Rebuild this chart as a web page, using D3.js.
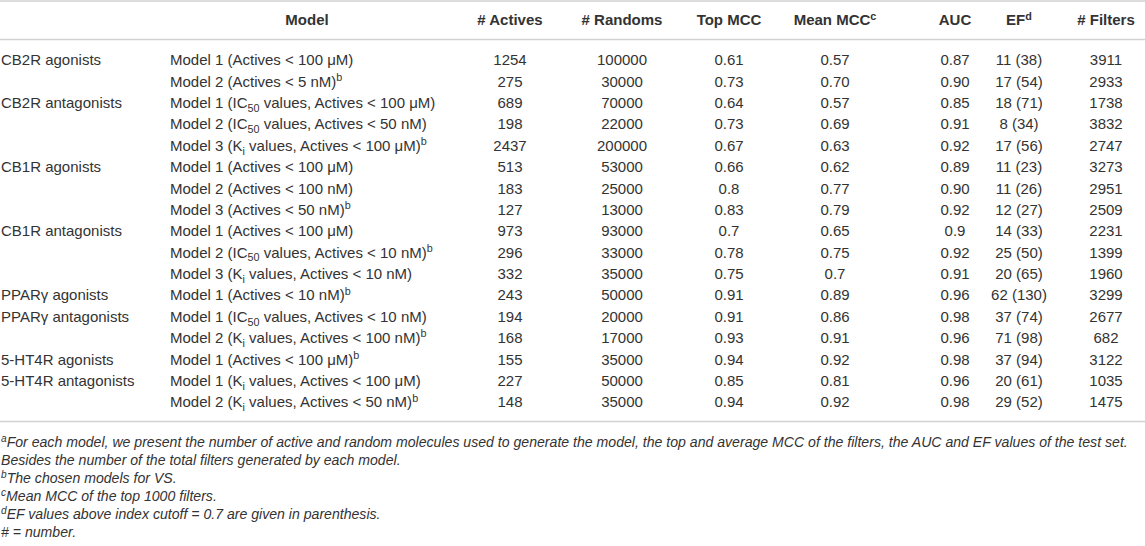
<!DOCTYPE html>
<html><head><meta charset="utf-8">
<script src="https://cdn.jsdelivr.net/npm/d3@7"></script>
<style>
html,body{margin:0;padding:0;background:#fff;}
svg{display:block;}
text{font-family:"Liberation Sans",Arial,Helvetica,sans-serif;fill:#333;}
</style></head>
<body>
<script>
// ---- data ----
const headers = ["Model", "# Actives", "# Randoms", "Top MCC", "Mean MCC^c^", "AUC", "EF^d^", "# Filters"];
const groups = ["CB2R agonists", "", "CB2R antagonists", "", "", "CB1R agonists", "", "", "CB1R antagonists", "", "",
  "PPARγ agonists", "PPARγ antagonists", "", "5-HT4R agonists", "5-HT4R antagonists", ""];
const models = [
  "Model 1 (Actives < 100 μM)",
  "Model 2 (Actives < 5 nM)^b^",
  "Model 1 (IC~50~ values, Actives < 100 μM)",
  "Model 2 (IC~50~ values, Actives < 50 nM)",
  "Model 3 (K~i~ values, Actives < 100 μM)^b^",
  "Model 1 (Actives < 100 μM)",
  "Model 2 (Actives < 100 nM)",
  "Model 3 (Actives < 50 nM)^b^",
  "Model 1 (Actives < 100 μM)",
  "Model 2 (IC~50~ values, Actives < 10 nM)^b^",
  "Model 3 (K~i~ values, Actives < 10 nM)",
  "Model 1 (Actives < 10 nM)^b^",
  "Model 1 (IC~50~ values, Actives < 10 nM)",
  "Model 2 (K~i~ values, Actives < 100 nM)^b^",
  "Model 1 (Actives < 100 μM)^b^",
  "Model 1 (K~i~ values, Actives < 100 μM)",
  "Model 2 (K~i~ values, Actives < 50 nM)^b^"
];
const actives = ["1254","275","689","198","2437","513","183","127","973","296","332","243","194","168","155","227","148"];
const randoms = ["100000","30000","70000","22000","200000","53000","25000","13000","93000","33000","35000","50000","20000","17000","35000","50000","35000"];
const topMCC = ["0.61","0.73","0.64","0.73","0.67","0.66","0.8","0.83","0.7","0.78","0.75","0.91","0.91","0.93","0.94","0.85","0.94"];
const meanMCC = ["0.57","0.70","0.57","0.69","0.63","0.62","0.77","0.79","0.65","0.75","0.7","0.89","0.86","0.91","0.92","0.81","0.92"];
const auc = ["0.87","0.90","0.85","0.91","0.92","0.89","0.90","0.92","0.9","0.92","0.91","0.96","0.98","0.96","0.98","0.96","0.98"];
const ef = ["11 (38)","17 (54)","18 (71)","8 (34)","17 (56)","11 (23)","11 (26)","12 (27)","14 (33)","25 (50)","20 (65)","62 (130)","37 (74)","71 (98)","37 (94)","20 (61)","29 (52)"];
const filters = ["3911","2933","1738","3832","2747","3273","2951","2509","2231","1399","1960","3299","2677","682","3122","1035","1475"];
const footnotes = [
  "^a^For each model, we present the number of active and random molecules used to generate the model, the top and average MCC of the filters, the AUC and EF values of the test set.",
  "Besides the number of the total filters generated by each model.",
  "^b^The chosen models for VS.",
  "^c^Mean MCC of the top 1000 filters.",
  "^d^EF values above index cutoff = 0.7 are given in parenthesis.",
  "# = number."
];

// ---- layout ----
const W = 1145, H = 546, FS = 15, FFS = 14.1;
const svg = d3.select("body").append("svg").attr("width", W).attr("height", H);

const numCols = [actives, randoms, topMCC, meanMCC, auc, ef, filters];
const colKeys = d3.range(headers.length);
const x = d3.scaleOrdinal().domain(colKeys).range([307, 510, 622, 729, 835, 955, 1019, 1106]);
const y = d3.scalePoint().domain(d3.range(models.length)).range([60, 402]);

// rich text: ~sub~ and ^sup^ ; baseline handled via absolute y on the <text>
function rich(sel, str, fs) {
  const parts = str.split(/(\~[^~]*\~|\^[^^]*\^)/).filter(s => s.length);
  let pending = 0;
  parts.forEach(p => {
    let ts;
    if (p[0] === "~") {
      const d = fs * 0.25;
      ts = sel.append("tspan").attr("font-size", fs * 0.72).attr("dy", pending + d).text(p.slice(1, -1));
      pending = -d;
    } else if (p[0] === "^") {
      const d = -fs * 0.38;
      ts = sel.append("tspan").attr("font-size", fs * 0.72).attr("dy", pending + d).text(p.slice(1, -1));
      pending = -d;
    } else {
      ts = sel.append("tspan").text(p);
      if (pending) ts.attr("dy", pending);
      pending = 0;
    }
  });
}

// rules
const rule = (yy) => svg.append("line").attr("x1", 0).attr("x2", W).attr("y1", yy).attr("y2", yy)
  .attr("stroke", "#d2d2d2").attr("stroke-width", 1.6);
rule(1); rule(39.5); rule(421.5);

const base = (c, fs) => c + fs * 0.35;

// header
const hdr = svg.append("g").attr("font-weight", "bold").attr("font-size", FS);
colKeys.forEach(k => {
  const t = hdr.append("text").attr("x", x(k)).attr("y", base(20, FS)).attr("text-anchor", "middle");
  rich(t, headers[k], FS);
});

// body
const body = svg.append("g").attr("font-size", FS);
body.selectAll("text.grp").data(groups.map((g, i) => ({g, i})).filter(d => d.g)).join("text").attr("class", "grp")
  .attr("x", 1).attr("y", d => base(y(d.i), FS)).text(d => d.g);
body.selectAll("text.mdl").data(models).join("text").attr("class", "mdl")
  .attr("x", 170).attr("y", (d, i) => base(y(i), FS))
  .each(function(d) { rich(d3.select(this), d, FS); });
numCols.forEach((col, ci) => {
  body.selectAll("text.c" + ci).data(col).join("text").attr("class", "c" + ci)
    .attr("x", x(ci + 1)).attr("y", (d, i) => base(y(i), FS))
    .attr("text-anchor", "middle").text(d => d);
});

// footnotes
const fy = d3.scalePoint().domain(d3.range(footnotes.length)).range([442, 532]);
const fn = svg.append("g").attr("font-size", FFS).attr("font-style", "italic");
footnotes.forEach((f, i) => {
  const t = fn.append("text").attr("x", 1).attr("y", base(fy(i), FFS));
  rich(t, f, FFS);
});
</script>
</body></html>
